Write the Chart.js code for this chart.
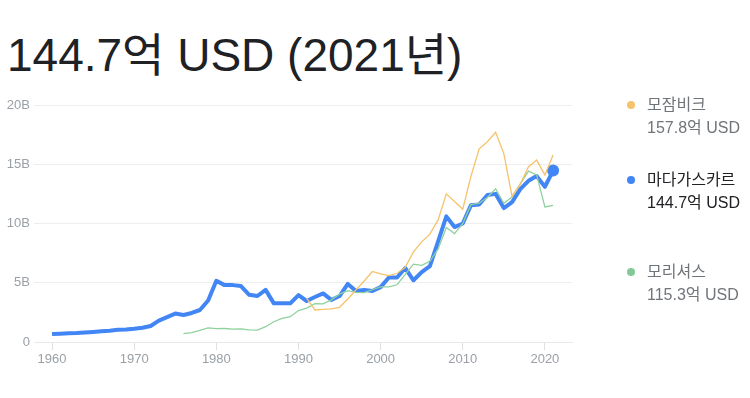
<!DOCTYPE html>
<html>
<head>
<meta charset="utf-8">
<script src="https://cdn.jsdelivr.net/npm/chart.js"></script>
<style>
  body { margin: 0; background: #fff; font-family: Arial, "Liberation Sans", "Noto Sans CJK KR", sans-serif; }
  #wrap { position: relative; width: 750px; height: 398px; overflow: hidden; }
  #title { position: absolute; left: 7px; top: 18px; font-size: 46px; color: #202124; white-space: nowrap; }
  #chartBox { position: absolute; left: 0; top: 0; width: 750px; height: 398px; }
  .leg { position: absolute; left: 626px; font-size: 16px; line-height: 23px; color: #70757a; white-space: nowrap; }
  .leg .dot { position: absolute; left: 1px; top: 8px; width: 8px; height: 8px; border-radius: 50%; }
  .leg .txt { margin-left: 21px; }
  .leg.on { color: #202124; }
</style>
</head>
<body>
<div id="wrap">
  <div id="title">144.7억 USD (2021년)</div>
  <div id="chartBox"><canvas id="myChart" width="750" height="398"></canvas></div>
  <div class="leg" style="top:93px"><span class="dot" style="background:#f6c26b"></span><div class="txt">모잠비크</div><div class="txt">157.8억 USD</div></div>
  <div class="leg on" style="top:168px"><span class="dot" style="background:#4285f4"></span><div class="txt">마다가스카르</div><div class="txt">144.7억 USD</div></div>
  <div class="leg" style="top:260px"><span class="dot" style="background:#81c995"></span><div class="txt">모리셔스</div><div class="txt">115.3억 USD</div></div>
</div>
<script>
// years on the x axis
var years = [];
for (var y = 1960; y <= 2021; y++) years.push(y);

var xTicks = [1960, 1970, 1980, 1990, 2000, 2010, 2020];
var yTicks = [0, 5, 10, 15, 20];

// GDP in billions of USD
var madagascar = [0.67,0.70,0.74,0.76,0.80,0.85,0.91,0.95,1.03,1.06,
  1.12,1.20,1.35,1.80,2.10,2.40,2.28,2.45,2.70,3.50,
  5.17,4.80,4.80,4.72,3.98,3.88,4.40,3.26,3.26,3.26,
  3.95,3.46,3.80,4.10,3.55,3.88,4.90,4.30,4.40,4.30,
  4.63,5.44,5.44,6.24,5.21,5.90,6.40,8.50,10.60,9.70,
  10.00,11.55,11.60,12.40,12.50,11.30,11.80,12.90,13.60,14.00,
  13.10,14.47];

// starts in 1991
var mozambique = [3.70,2.70,2.76,2.80,2.93,3.63,4.40,5.15,5.95,
  5.75,5.60,5.80,6.30,7.60,8.45,9.10,10.30,12.50,11.85,
  11.20,14.00,16.30,16.90,17.70,15.90,12.30,13.30,14.80,15.35,
  14.10,15.78];

// starts in 1976
var mauritius = [0.71,0.80,0.98,1.19,
  1.13,1.14,1.09,1.11,1.02,1.00,1.29,1.71,2.00,2.13,
  2.65,2.86,3.23,3.22,3.56,4.04,4.33,4.19,4.17,4.41,
  4.66,4.66,4.83,5.71,6.57,6.46,6.81,7.85,9.66,9.15,
  10.00,11.60,11.71,12.20,12.93,11.71,12.23,13.34,14.42,14.10,
  11.40,11.53];

function toPoints(vals, startYear) {
  return vals.map(function (v, i) { return { x: startYear + i, y: v }; });
}

var madPts = toPoints(madagascar, 1960);
var lastIdx = madPts.length - 1;

new Chart("myChart", {
  type: "line",
  data: {
    datasets: [{
      data: toPoints(mozambique, 1991),
      borderColor: "#f6c26b",
      borderWidth: 1.3,
      pointRadius: 0,
      tension: 0,
      fill: false
    }, {
      data: toPoints(mauritius, 1976),
      borderColor: "#8fd19e",
      borderWidth: 1.3,
      pointRadius: 0,
      tension: 0,
      fill: false
    }, {
      data: madPts,
      borderColor: "#4285f4",
      backgroundColor: "#4285f4",
      borderWidth: 4,
      borderJoinStyle: "round",
      pointRadius: function (ctx) { return ctx.dataIndex === lastIdx ? 6 : 0; },
      pointBorderWidth: 0,
      tension: 0,
      fill: false
    }]
  },
  options: {
    responsive: false,
    animation: false,
    layout: { padding: { top: 105, right: 178, left: 0, bottom: 0 } },
    plugins: { legend: { display: false }, tooltip: { enabled: false } },
    scales: {
      x: {
        type: "linear",
        min: 1957.8,
        max: 2023.3,
        afterBuildTicks: function (s) { s.ticks = xTicks.map(function (v) { return { value: v }; }); },
        afterFit: function (s) { s.height = 56; },
        grid: { drawOnChartArea: false, drawTicks: true, tickLength: 8, color: "#e0e0e0" },
        border: { display: true, color: "#e8e8e8" },
        ticks: {
          color: "#9aa0a6",
          font: { size: 13, family: "Arial" },
          padding: 2,
          maxRotation: 0,
          callback: function (v) { return String(v); }
        }
      },
      y: {
        min: 0,
        max: 20,
        afterBuildTicks: function (s) { s.ticks = yTicks.map(function (v) { return { value: v }; }); },
        afterFit: function (s) { s.width = 34; },
        grid: { color: "#eeeeee", drawTicks: false },
        border: { display: false },
        ticks: {
          color: "#9aa0a6",
          font: { size: 13, family: "Arial" },
          padding: 4,
          callback: function (v) { return v === 0 ? "0" : v + "B"; }
        }
      }
    }
  }
});
</script>
</body>
</html>
